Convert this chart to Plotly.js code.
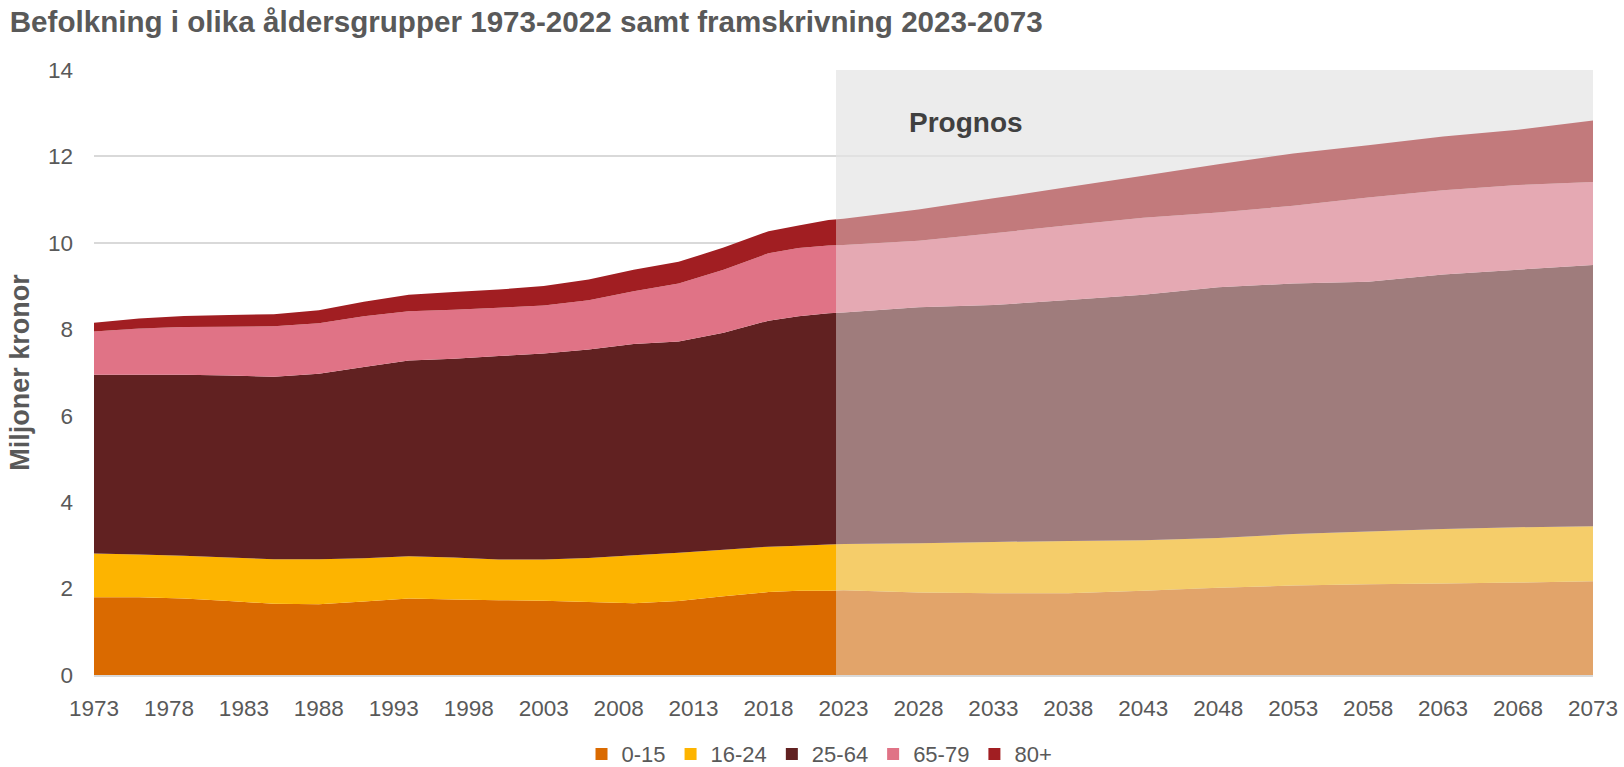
<!DOCTYPE html>
<html>
<head>
<meta charset="utf-8">
<script src="https://cdn.plot.ly/plotly-3.0.1.min.js"></script>
<style>html,body{margin:0;padding:0;background:#fff;}#chart{width:1624px;height:767px;}</style>
</head>
<body>
<div id="chart"></div>
<script>
// Years (historical 1973-2022, forecast 2023-2073)
const years = [1973,1976,1979,1982,1985,1988,1991,1994,1997,2000,2003,2006,2009,2012,2015,2018,2020,2022,
               2023,2028,2033,2038,2043,2048,2053,2058,2063,2068,2073];
// Population per age group (millions)
const age0_15  = [1.80,1.80,1.77,1.71,1.65,1.64,1.70,1.77,1.75,1.73,1.72,1.69,1.66,1.71,1.82,1.92,1.95,1.95,
                  1.96,1.91,1.89,1.89,1.95,2.02,2.07,2.10,2.12,2.14,2.17];
const age16_24 = [1.01,0.99,0.99,1.01,1.03,1.04,1.00,0.98,0.97,0.94,0.95,1.02,1.11,1.12,1.08,1.05,1.04,1.07,
                  1.07,1.14,1.19,1.21,1.17,1.15,1.19,1.22,1.26,1.28,1.27];
const age25_64 = [4.14,4.16,4.19,4.21,4.22,4.29,4.43,4.53,4.60,4.71,4.77,4.82,4.89,4.89,5.02,5.23,5.31,5.35,
                  5.36,5.46,5.48,5.58,5.68,5.80,5.80,5.78,5.89,5.96,6.05];
const age65_79 = [1.00,1.07,1.10,1.13,1.17,1.17,1.17,1.14,1.13,1.12,1.11,1.14,1.22,1.34,1.46,1.56,1.58,1.57,
                  1.56,1.54,1.66,1.73,1.78,1.73,1.80,1.95,1.95,1.96,1.92];
const age80    = [0.20,0.23,0.26,0.27,0.28,0.30,0.34,0.38,0.41,0.42,0.45,0.48,0.50,0.50,0.51,0.51,0.52,0.59,
                  0.61,0.72,0.81,0.88,0.97,1.12,1.21,1.21,1.24,1.28,1.42];

const seriesNames = ['0-15','16-24','25-64','65-79','80+'];
const seriesData  = [age0_15, age16_24, age25_64, age65_79, age80];
const seriesColors = ['#DA6A00','#FDB400','#612121','#E07386','#A11E22'];
const tickYears = [1973,1978,1983,1988,1993,1998,2003,2008,2013,2018,2023,2028,2033,2038,2043,2048,2053,2058,2063,2068,2073];
const forecastStart = 2022.5, forecastEnd = 2073;

const traces = [];
seriesNames.forEach((n,i)=>{
  traces.push({type:'scatter', x: years, y: seriesData[i], name: n, stackgroup:'one', mode:'none',
    fillcolor: seriesColors[i], line:{width:0}, showlegend:false, hoverinfo:'x+y+name'});
});
seriesNames.forEach((n,i)=>{
  traces.push({type:'scatter', x:[null], y:[null], name:n, mode:'markers',
    marker:{symbol:'square', size:12, color:seriesColors[i]}, showlegend:true});
});

const txt = '#595959';
const layout = {
  width:1624, height:767,
  margin:{l:94, r:31, t:70, b:92, autoexpand:false},
  paper_bgcolor:'#fff', plot_bgcolor:'rgba(0,0,0,0)',
  font:{family:'"Liberation Sans", Arial, sans-serif', color:txt},
  title:{text:'Befolkning i olika åldersgrupper 1973-2022 samt framskrivning 2023-2073',
    xref:'container', yref:'container', x:0.006, xanchor:'left', y:0.972, yanchor:'middle',
    font:{size:29.6, weight:'bold', color:txt}},
  xaxis:{range:[1973,2073], tickvals:tickYears, ticktext:tickYears.map(String), showgrid:false, zeroline:false,
    showline:true, linecolor:'#d9d9d9', linewidth:2, ticks:'', ticklabelstandoff:12,
    tickfont:{size:22.5, color:txt}, fixedrange:true, automargin:false},
  yaxis:{range:[0,14], dtick:2, showgrid:true, gridcolor:'#d9d9d9', gridwidth:2, zeroline:false, showline:false,
    ticks:'', ticklabelstandoff:20, tickfont:{size:22.5, color:txt}, automargin:false,
    title:{text:'Miljoner kronor', font:{size:27, weight:'bold', color:txt}, standoff:10}},
  showlegend:true,
  legend:{orientation:'h', x:0.484, xanchor:'center', y:-0.096, yanchor:'top', traceorder:'normal',
    font:{size:22, color:txt}, itemwidth:30, bgcolor:'rgba(0,0,0,0)', borderwidth:0},
  shapes:[
    {type:'rect', xref:'x', yref:'y', x0:forecastStart, x1:forecastEnd, y0:0, y1:14, fillcolor:'#ededed', line:{width:0}, layer:'below'},
    {type:'rect', xref:'x', yref:'y', x0:forecastStart, x1:forecastEnd, y0:0, y1:14, fillcolor:'rgba(236,236,236,0.45)', line:{width:0}, layer:'above'}
  ],
  annotations:[
    {text:'Prognos', x:2031.2, y:12.79, xref:'x', yref:'y', showarrow:false, xanchor:'center', yanchor:'middle',
     font:{size:28, weight:'bold', color:'#404040'}}
  ]
};
Plotly.newPlot('chart', traces, layout, {displayModeBar:false, staticPlot:true});
</script>
</body>
</html>
